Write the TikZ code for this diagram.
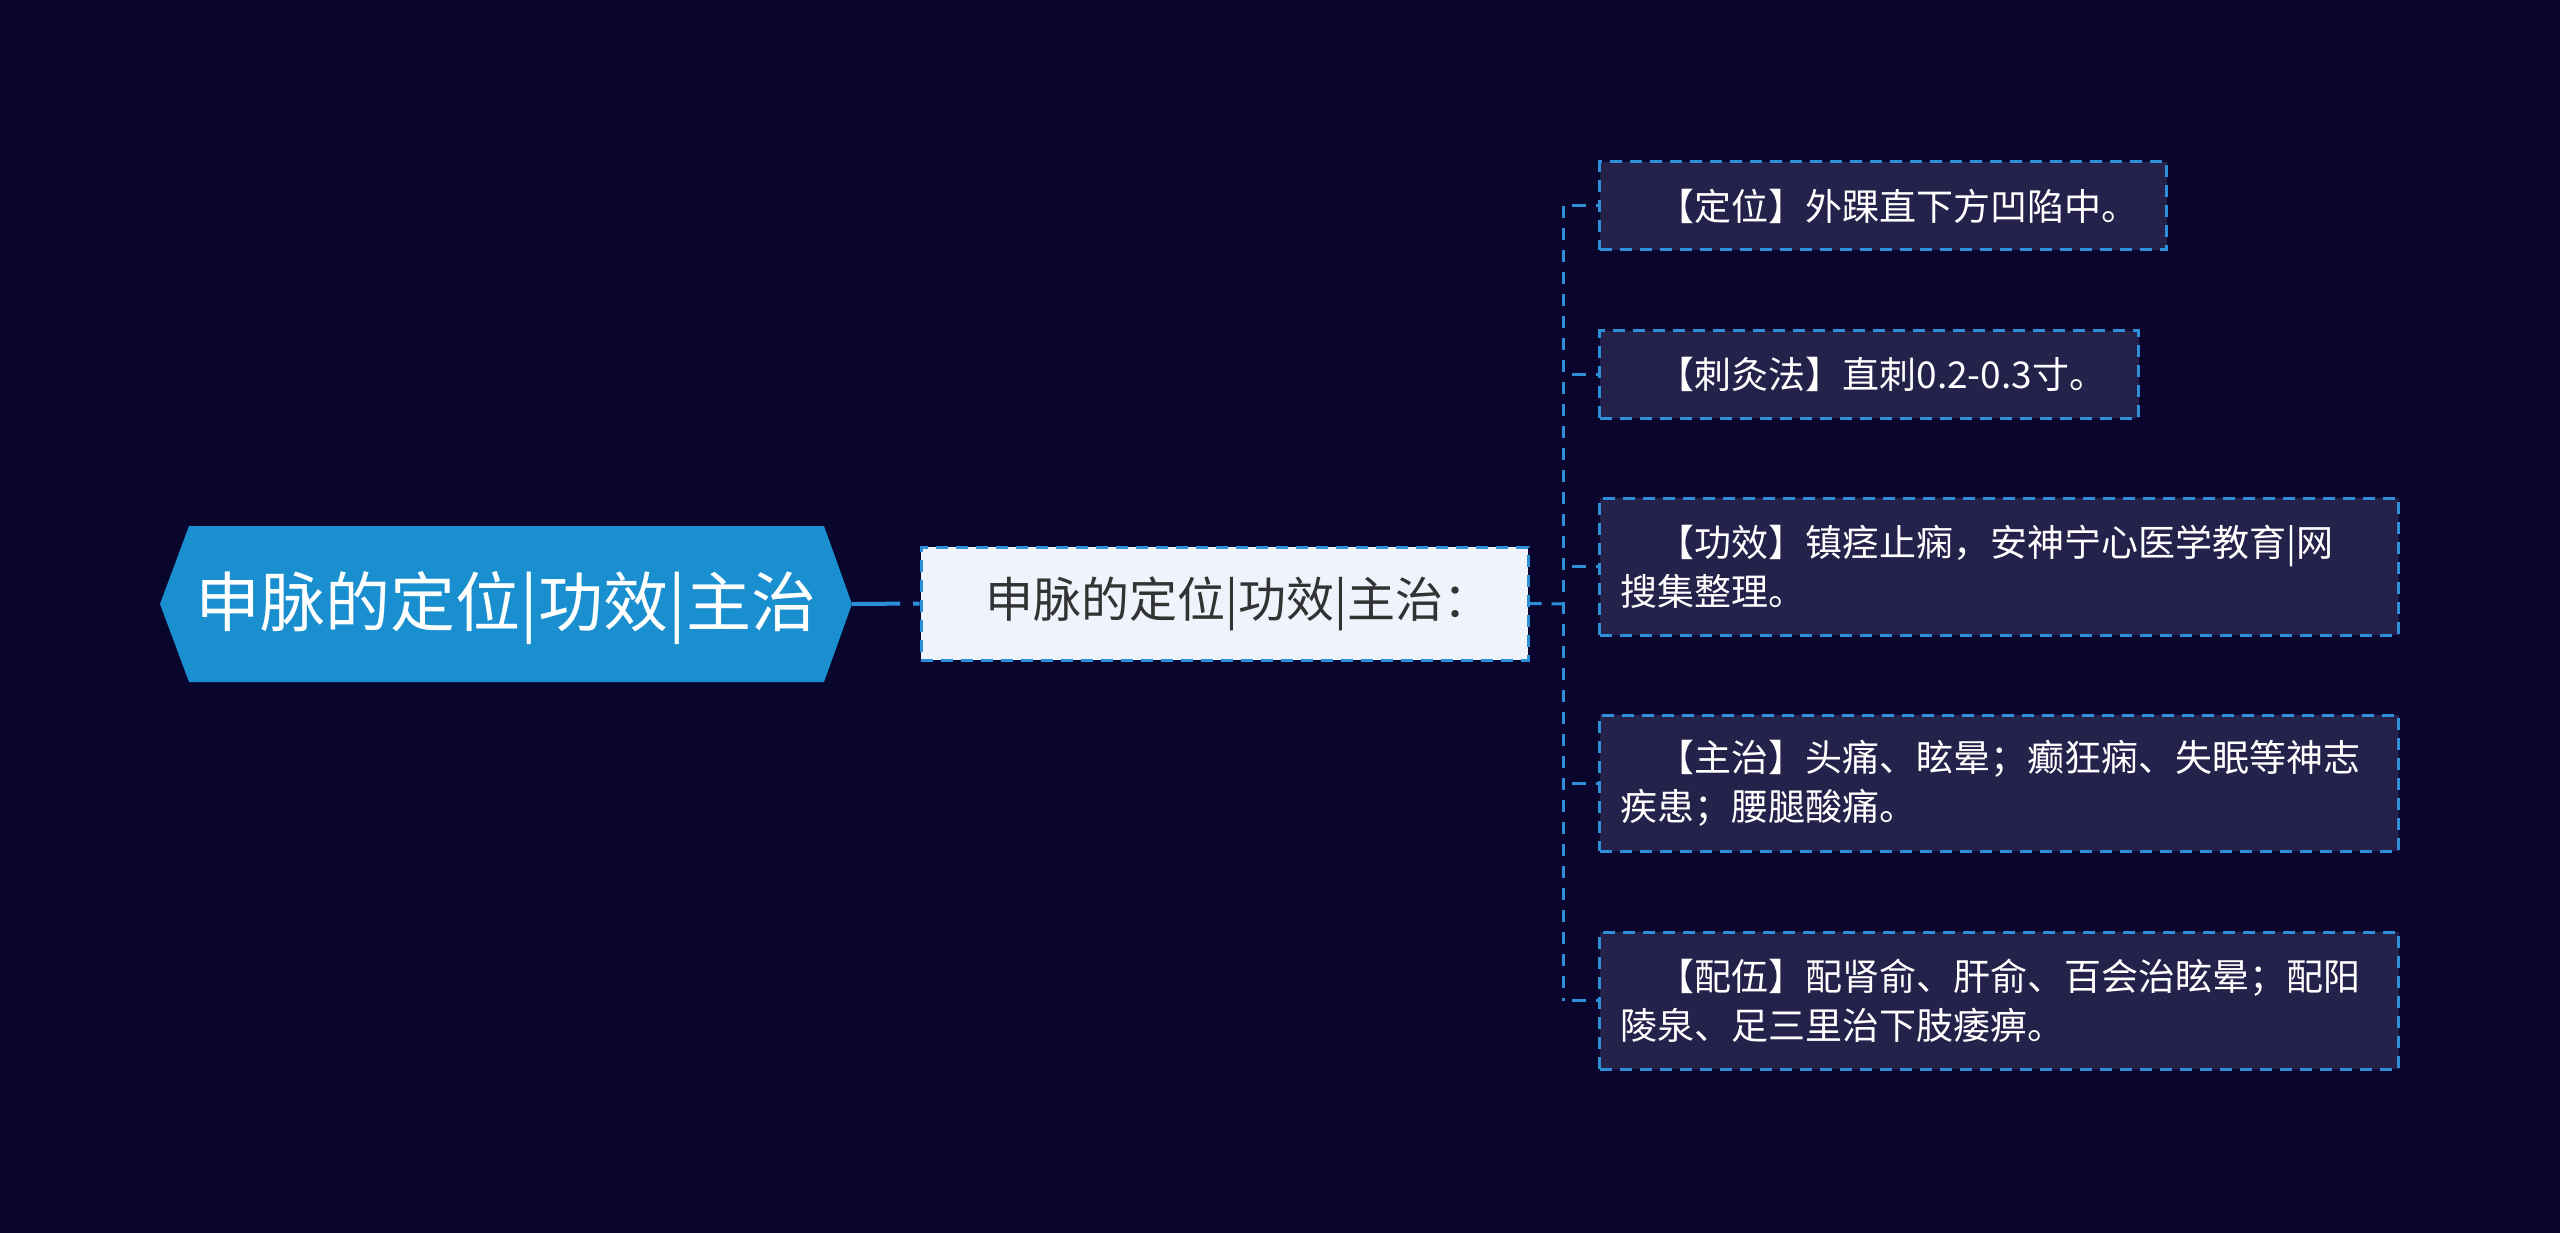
\documentclass[tikz,border=0pt]{standalone}
\usepackage{fontspec}
\newfontfamily\cjk{Noto Sans CJK SC}
\definecolor{bgc}{RGB}{10,5,45}
\definecolor{rootc}{RGB}{26,143,208}
\definecolor{dashc}{RGB}{45,143,216}
\definecolor{childc}{RGB}{36,33,74}
\definecolor{midc}{RGB}{238,243,252}
\definecolor{midtext}{RGB}{51,51,51}
\tikzset{
  childbox/.style={draw=dashc, fill=childc, line width=3pt, dash pattern=on 12pt off 8pt,
    anchor=west, inner xsep=21pt, inner ysep=0pt, align=left, text=white,
    font=\cjk\fontsize{37}{49}\selectfont},
  midbox/.style={draw=dashc, fill=midc, line width=3pt, dash pattern=on 12pt off 8pt,
    inner sep=0pt, align=center, text=midtext, minimum width=607pt, minimum height=113pt,
    font=\cjk\fontsize{48}{56}\selectfont},
  link/.style={draw=dashc, line width=3pt, dash pattern=on 12pt off 10pt},
}
\begin{document}
\begin{tikzpicture}[x=1pt,y=-1pt]
\fill[bgc] (0,0) rectangle (2560,1233);
\useasboundingbox (0,0) rectangle (2560,1233);
% root hexagon
\fill[rootc] (160,604) -- (189,526) -- (824,526) -- (852,604) -- (824,682) -- (189,682) -- cycle;
\node[text=white, font=\cjk\fontsize{65}{75}\selectfont, inner sep=0pt] (root) at (506,608) {申脉的定位|功效|主治};
\coordinate (rootE) at (852,604);
% middle
\node[midbox] (mid) at (1224.5,603.5) {\hspace*{0.6em}申脉的定位|功效|主治：};
% children
\node[childbox, text width=525pt, minimum height=88pt] (c1) at (1598,206) {\hspace*{1em}【定位】外踝直下方凹陷中。};
\node[childbox, text width=497pt, minimum height=87pt] (c2) at (1598,374.5) {\hspace*{1em}【刺灸法】直刺0.2-0.3寸。};
\node[childbox, text width=757pt, minimum height=137pt] (c3) at (1598,566.5) {\hspace*{1em}【功效】镇痉止痫，安神宁心医学教育|网\\搜集整理。};
\node[childbox, text width=757pt, minimum height=136pt] (c4) at (1598,783) {\hspace*{1em}【主治】头痛、眩晕；癫狂痫、失眠等神志\\疾患；腰腿酸痛。};
\node[childbox, text width=757pt, minimum height=137pt] (c5) at (1598,1000.5) {\hspace*{1em}【配伍】配肾俞、肝俞、百会治眩晕；配阳\\陵泉、足三里治下肢痿痹。};
% connectors
\draw[draw=dashc, line width=4pt, dash pattern=on 48pt off 13pt on 10pt off 4pt] (rootE) -- (mid.west);
\coordinate (bx) at (1563,604);
\draw[link] (mid.east) -- (bx);
\draw[link] (bx |- c1.west) -- (bx |- c5.west);
\foreach \c in {c1,c2,c3,c4,c5}{
  \draw[link, dash pattern=on 14pt off 10pt] ([xshift=9pt]bx |- \c.west) -- (\c.west);
}
\end{tikzpicture}
\end{document}
